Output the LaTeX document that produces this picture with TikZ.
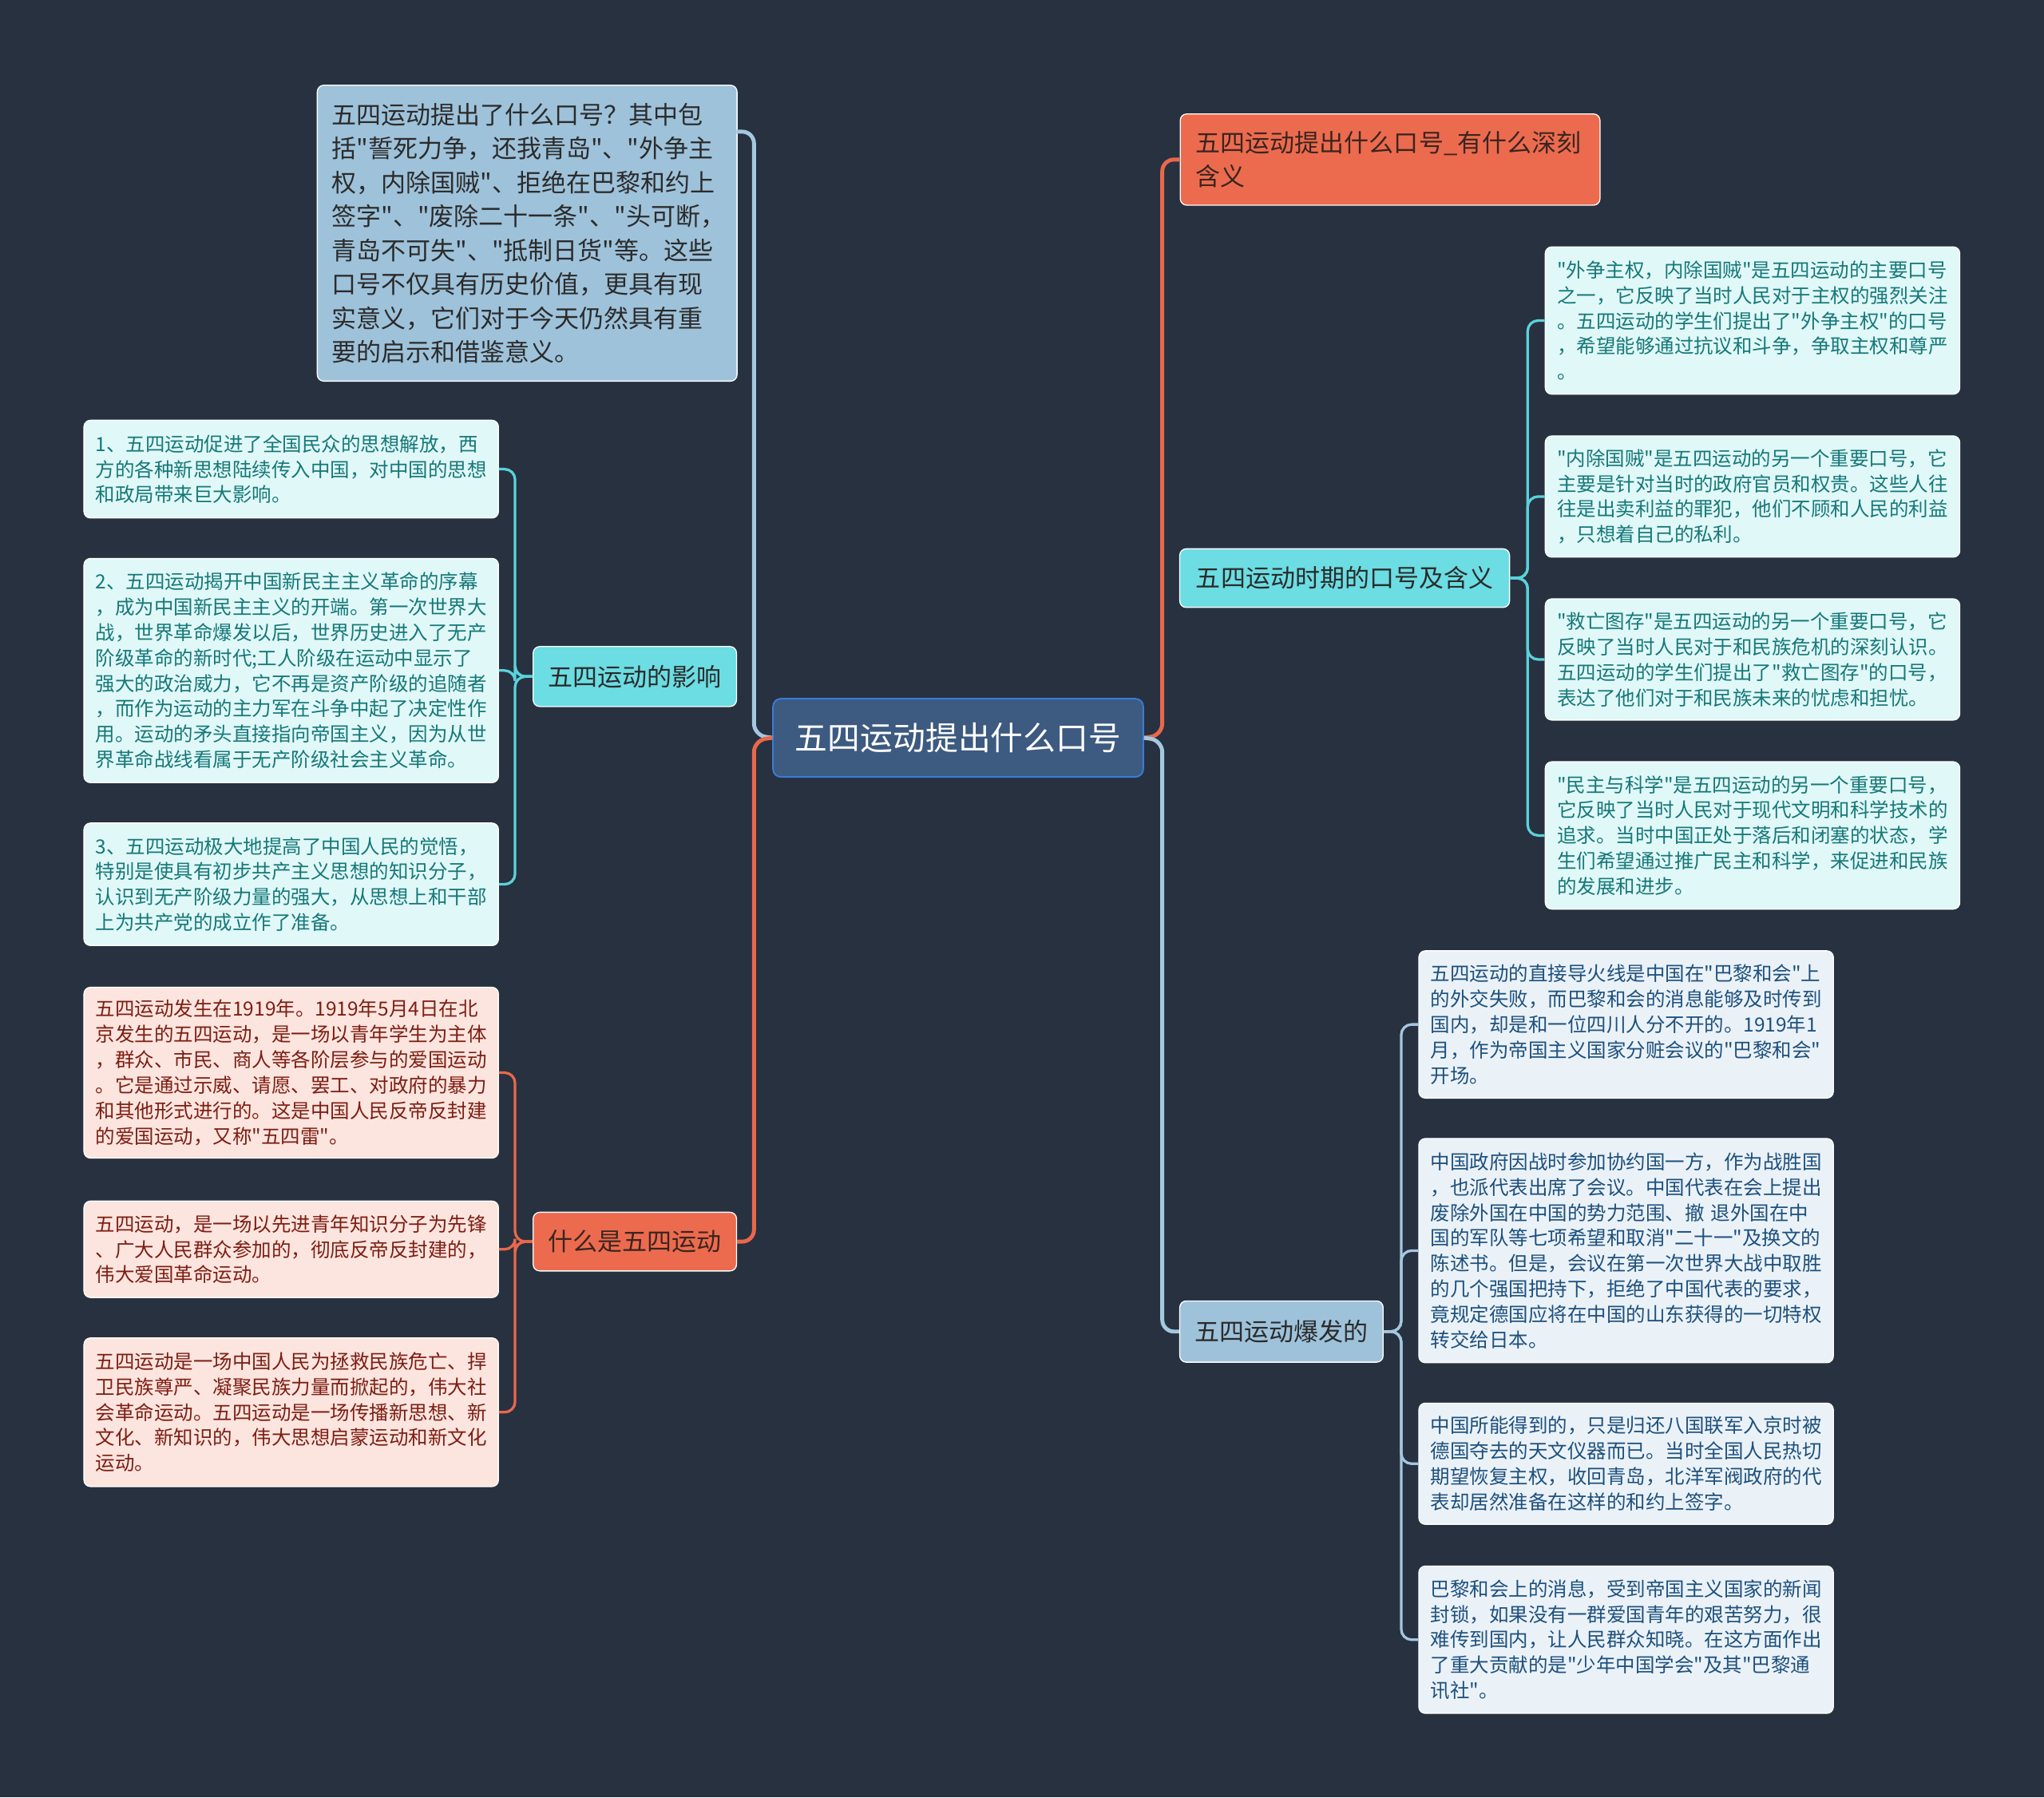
\documentclass[tikz,border=0pt]{standalone}
\usepackage{fontspec}
\newfontfamily\cjk{Noto Sans CJK SC}
\definecolor{bg}{RGB}{40,49,63}
\definecolor{cfill}{RGB}{61,90,128}
\definecolor{cborder}{RGB}{58,123,213}
\definecolor{morange}{RGB}{236,107,78}
\definecolor{mcyan}{RGB}{107,221,227}
\definecolor{mblue}{RGB}{158,194,218}
\definecolor{btext}{RGB}{43,43,43}
\definecolor{otext}{RGB}{58,37,32}
\definecolor{leafcyan}{RGB}{225,248,248}
\definecolor{tealtext}{RGB}{22,120,120}
\definecolor{leafpink}{RGB}{252,229,222}
\definecolor{redtext}{RGB}{125,30,20}
\definecolor{leafblue}{RGB}{234,242,248}
\definecolor{bluetext}{RGB}{30,80,125}
\definecolor{lineblue}{RGB}{165,200,225}
\definecolor{lineorange}{RGB}{232,104,76}
\definecolor{linecyan}{RGB}{90,210,220}
\tikzset{
  conn/.style={line width=3pt, rounded corners=9pt},
  subconn/.style={line width=2pt, rounded corners=8pt},
  leafbox/.style={anchor=north west, rounded corners=5pt, draw=white, line width=0.8pt,
    inner xsep=9pt, inner ysep=0pt, text width=300pt, align=left,
    font=\cjk\fontsize{15}{19.5}\selectfont},
  tealleaf/.style={leafbox, fill=leafcyan, text=tealtext},
  pinkleaf/.style={leafbox, fill=leafpink, text=redtext},
  blueleaf/.style={leafbox, fill=leafblue, text=bluetext},
  branch/.style={rounded corners=5pt, draw=white, line width=0.8pt, inner sep=0pt,
    font=\cjk\fontsize{19}{26}\selectfont, text=btext},
  centralbox/.style={rounded corners=6pt, draw=cborder, line width=1.2pt, fill=cfill,
    text=white, inner sep=0pt, font=\cjk\fontsize{25}{30}\selectfont}
}
\begin{document}
\begin{tikzpicture}[x=1pt,y=-1pt]
\path[use as bounding box, fill=bg] (0,0) rectangle (1568,1379);

% central
\node[centralbox, minimum width=284pt, minimum height=60pt] (c) at (735,566) {五四运动提出什么口号};

% left branches
\node[branch, fill=mblue, anchor=north west, text width=300pt, inner xsep=11pt,
  minimum height=227pt, align=left] (l1) at (243,65)
  {五四运动提出了什么口号？其中包\\括"誓死力争，还我青岛"、"外争主\\权，内除国贼"、拒绝在巴黎和约上\\签字"、"废除二十一条"、"头可断，\\青岛不可失"、"抵制日货"等。这些\\口号不仅具有历史价值，更具有现\\实意义，它们对于今天仍然具有重\\要的启示和借鉴意义。};
\node[branch, fill=mcyan, minimum width=156pt, minimum height=46pt] (l2) at (487,519) {五四运动的影响};
\node[branch, fill=morange, text=otext, minimum width=156pt, minimum height=45pt] (l3) at (487,952.5) {什么是五四运动};

% right branches
\node[branch, fill=morange, text=otext, anchor=north west, text width=298pt, inner xsep=12pt,
  minimum height=70pt, align=left] (r1) at (905,87) {五四运动提出什么口号\_有什么深刻\\含义};
\node[branch, fill=mcyan, minimum width=253pt, minimum height=45pt] (r2) at (1031.5,443.5) {五四运动时期的口号及含义};
\node[branch, fill=mblue, minimum width=156pt, minimum height=47pt] (r3) at (983,1021.5) {五四运动爆发的};

% leaves: influence
\node[tealleaf, minimum height=75pt] (a1) at (64,322)
  {1、五四运动促进了全国民众的思想解放，西\\方的各种新思想陆续传入中国，对中国的思想\\和政局带来巨大影响。};
\node[tealleaf, minimum height=172pt] (a2) at (64,428)
  {2、五四运动揭开中国新民主主义革命的序幕\\，成为中国新民主主义的开端。第一次世界大\\战，世界革命爆发以后，世界历史进入了无产\\阶级革命的新时代;工人阶级在运动中显示了\\强大的政治威力，它不再是资产阶级的追随者\\，而作为运动的主力军在斗争中起了决定性作\\用。运动的矛头直接指向帝国主义，因为从世\\界革命战线看属于无产阶级社会主义革命。};
\node[tealleaf, minimum height=94pt] (a3) at (64,631)
  {3、五四运动极大地提高了中国人民的觉悟，\\特别是使具有初步共产主义思想的知识分子，\\认识到无产阶级力量的强大，从思想上和干部\\上为共产党的成立作了准备。};

% leaves: what is
\node[pinkleaf, minimum height=131pt] (b1) at (64,757)
  {五四运动发生在1919年。1919年5月4日在北\\京发生的五四运动，是一场以青年学生为主体\\，群众、市民、商人等各阶层参与的爱国运动\\。它是通过示威、请愿、罢工、对政府的暴力\\和其他形式进行的。这是中国人民反帝反封建\\的爱国运动，又称"五四雷"。};
\node[pinkleaf, minimum height=74pt] (b2) at (64,921)
  {五四运动，是一场以先进青年知识分子为先锋\\、广大人民群众参加的，彻底反帝反封建的，\\伟大爱国革命运动。};
\node[pinkleaf, minimum height=114pt] (b3) at (64,1026)
  {五四运动是一场中国人民为拯救民族危亡、捍\\卫民族尊严、凝聚民族力量而掀起的，伟大社\\会革命运动。五四运动是一场传播新思想、新\\文化、新知识的，伟大思想启蒙运动和新文化\\运动。};

% leaves: slogans
\node[tealleaf, minimum height=113pt] (c1) at (1185,189)
  {"外争主权，内除国贼"是五四运动的主要口号\\之一，它反映了当时人民对于主权的强烈关注\\。五四运动的学生们提出了"外争主权"的口号\\，希望能够通过抗议和斗争，争取主权和尊严\\。};
\node[tealleaf, minimum height=93pt] (c2) at (1185,334)
  {"内除国贼"是五四运动的另一个重要口号，它\\主要是针对当时的政府官员和权贵。这些人往\\往是出卖利益的罪犯，他们不顾和人民的利益\\，只想着自己的私利。};
\node[tealleaf, minimum height=93pt] (c3) at (1185,459)
  {"救亡图存"是五四运动的另一个重要口号，它\\反映了当时人民对于和民族危机的深刻认识。\\五四运动的学生们提出了"救亡图存"的口号，\\表达了他们对于和民族未来的忧虑和担忧。};
\node[tealleaf, minimum height=113pt] (c4) at (1185,584)
  {"民主与科学"是五四运动的另一个重要口号，\\它反映了当时人民对于现代文明和科学技术的\\追求。当时中国正处于落后和闭塞的状态，学\\生们希望通过推广民主和科学，来促进和民族\\的发展和进步。};

% leaves: outbreak
\node[blueleaf, minimum height=113pt] (d1) at (1088,729)
  {五四运动的直接导火线是中国在"巴黎和会"上\\的外交失败，而巴黎和会的消息能够及时传到\\国内，却是和一位四川人分不开的。1919年1\\月，作为帝国主义国家分赃会议的"巴黎和会"\\开场。};
\node[blueleaf, minimum height=172pt] (d2) at (1088,873)
  {中国政府因战时参加协约国一方，作为战胜国\\，也派代表出席了会议。中国代表在会上提出\\废除外国在中国的势力范围、撤 退外国在中\\国的军队等七项希望和取消"二十一"及换文的\\陈述书。但是，会议在第一次世界大战中取胜\\的几个强国把持下，拒绝了中国代表的要求，\\竟规定德国应将在中国的山东获得的一切特权\\转交给日本。};
\node[blueleaf, minimum height=93pt] (d3) at (1088,1076)
  {中国所能得到的，只是归还八国联军入京时被\\德国夺去的天文仪器而已。当时全国人民热切\\期望恢复主权，收回青岛，北洋军阀政府的代\\表却居然准备在这样的和约上签字。};
\node[blueleaf, minimum height=113pt] (d4) at (1088,1201)
  {巴黎和会上的消息，受到帝国主义国家的新闻\\封锁，如果没有一群爱国青年的艰苦努力，很\\难传到国内，让人民群众知晓。在这方面作出\\了重大贡献的是"少年中国学会"及其"巴黎通\\讯社"。};

% main connectors
\coordinate (l1a) at (565,101);
\draw[conn, lineblue] (c.west) -- ++(-14,-2) |- (l1a);
\draw[conn, lineorange] (c.west) -- ++(-14,2) |- (l3.east);
\draw[conn, lineorange] (c.east) -- ++(14,-2) |- (r1.west);
\draw[conn, lineblue] (c.east) -- ++(14,2) |- (r3.west);

% sub connectors
\foreach \t in {a1,a2,a3} \draw[subconn, linecyan] (l2.west) -- ++(-13.5,0) |- (\t.east);
\foreach \t in {b1,b2,b3} \draw[subconn, lineorange] (l3.west) -- ++(-13.5,0) |- (\t.east);
\foreach \t in {c1,c2,c3,c4} \draw[subconn, linecyan] (r2.east) -- ++(13.5,0) |- (\t.west);
\foreach \t in {d1,d2,d3,d4} \draw[subconn, lineblue] (r3.east) -- ++(13.5,0) |- (\t.west);
\end{tikzpicture}
\end{document}
